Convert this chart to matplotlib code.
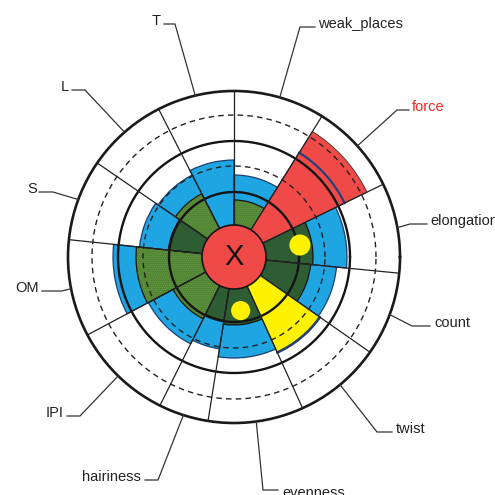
import numpy as np
import matplotlib
matplotlib.use("Agg")
import matplotlib.pyplot as plt

# ---------------- data ----------------
sectors = ["T", "weak_places", "force", "elongation", "count", "twist",
           "evenness", "hairiness", "IPI", "OM", "S", "L"]
# sector angular extents (degrees, counter-clockwise from east)
sector_start = [90, 58, 26, -5.6, -35, -65.6, -99, -116.5, -152, 174, 145.5, 117]
sector_end = [117, 90, 58, 26, -5.6, -35, -65.6, -99, -116.5, 208, 174, 145.5]
# radial levels (outer circle = 166)
green_level = [0, 57, 0, 79, 77, 0, 68, 64, 69, 98, 66, 71]
green_kind = ["", "tex", "", "dark", "dark", "", "dark", "dark", "tex", "tex", "dark", "tex"]
blue_level = [97, 82, 123, 113, 103, 105, 101, 93, 97, 121, 95, 92]
alert_level = [0, 0, 148, 0, 0, 104, 0, 0, 0, 0, 0, 0]
alert_kind = ["", "", "red", "", "", "yellow", "", "", "", "", "", ""]
dot_angle = [10.3, -82.9]
dot_radius = [67, 54]
dot_size = [230, 190]
center_radius = 32
solid_rings = [65, 116]
dashed_rings = [91, 142]
outer_radius = 166
label_colors = ["#222222"] * 12
label_colors[2] = "#ee2a24"

# ---------------- styles ----------------
RED = "#f04a48"
BLUE = "#1fa6e2"
DARKGREEN = "#2e5d33"
TEXGREEN = "#4f8434"
YELLOW = "#fff200"

W = 495
CX, CY = 234, 257

fig = plt.figure(figsize=(4.95, 4.95), dpi=100)
fig.patch.set_facecolor("white")
ax = fig.add_axes([(CX - outer_radius) / W, (W - CY - outer_radius) / W,
                   2 * outer_radius / W, 2 * outer_radius / W], projection="polar")
ax.set_theta_zero_location("E")
ax.set_theta_direction(1)
ax.set_ylim(0, outer_radius)
ax.set_xticks([])
ax.set_yticks([])
ax.grid(False)
ax.spines["polar"].set_linewidth(1.9)
ax.spines["polar"].set_color("#1a1a1a")

st = np.array(sector_start)
en = np.array(sector_end)
centers = np.deg2rad((st + en) / 2)
widths = np.deg2rad(en - st)

# blue
ax.bar(centers, blue_level, width=widths, bottom=0, color=BLUE,
       edgecolor="#1b3f73", linewidth=0.9, zorder=2)
# green
plt.rcParams["hatch.linewidth"] = 0.6
for c, w, g, k in zip(centers, widths, green_level, green_kind):
    if g <= 0:
        continue
    if k == "tex":
        ax.bar(c, g, width=w, bottom=0, color=TEXGREEN, edgecolor="#6c9a42",
               hatch="........", linewidth=0, zorder=3)
        ax.bar(c, g, width=w, bottom=0, fill=False, edgecolor="#151515",
               linewidth=0.9, zorder=3.1)
    else:
        ax.bar(c, g, width=w, bottom=0, color=DARKGREEN, edgecolor="#151515",
               linewidth=0.9, zorder=3)
# red / yellow
for c, w, a, k, b in zip(centers, widths, alert_level, alert_kind, blue_level):
    if a <= 0:
        continue
    ax.bar(c, a, width=w, bottom=0, color=RED if k == "red" else YELLOW,
           edgecolor="#333333", linewidth=0.6, zorder=4)
    t = np.linspace(c - w / 2, c + w / 2, 60)
    ax.plot(t, np.full_like(t, b), color="#24407a", lw=1.6, zorder=4.5)

# rings
tt = np.linspace(0, 2 * np.pi, 720)
for r in solid_rings:
    ax.plot(tt, np.full_like(tt, r), color="#141414", lw=1.7, zorder=5)
for r in dashed_rings:
    ax.plot(tt, np.full_like(tt, r), color="#222222", lw=1.0,
            linestyle=(0, (4, 3)), zorder=5)
# radial lines
for b in st:
    ax.plot([np.deg2rad(b)] * 2, [center_radius, outer_radius], color="#222222",
            lw=0.9, zorder=5)

# dots
ax.scatter(np.deg2rad(dot_angle), dot_radius, s=dot_size, color=YELLOW,
           edgecolors="none", zorder=6)

# center disk
ax.fill(tt, np.full_like(tt, center_radius), facecolor=RED, edgecolor="#151515",
        linewidth=1.2, zorder=7)
ax.text(0, 0, "X", ha="center", va="center", fontsize=21, color="#111111",
        family="Liberation Sans", zorder=8)

# ---------------- labels with leader lines ----------------
ov = fig.add_axes([0, 0, 1, 1], zorder=10)
ov.set_xlim(0, W)
ov.set_ylim(W, 0)
ov.axis("off")

elbow = [(175, 24), (300, 27), (397, 110), (410, 224), (412, 326), (377, 432),
         (263, 490), (158, 480), (80, 416), (62, 291), (53, 192), (85, 90)]
tail = [(164, 24), (315, 27), (409, 110), (427, 224), (430, 326), (392, 432),
        (278, 490), (145, 480), (67, 416), (42, 291), (39, 192), (72, 90)]
text_pos = [(161, 25), (318, 28), (412, 111), (430, 225), (434, 327), (396, 433),
            (282, 497), (141, 481), (64, 417), (39, 292), (37, 193), (69, 91)]
text_ha = ["right", "left", "left", "left", "left", "left", "left", "right",
           "right", "right", "right", "right"]

mids = (st + en) / 2
for i, name in enumerate(sectors):
    a = np.deg2rad(mids[i])
    sx = CX + outer_radius * np.cos(a)
    sy = CY - outer_radius * np.sin(a)
    ov.plot([sx, elbow[i][0], tail[i][0]], [sy, elbow[i][1], tail[i][1]],
            color="#333333", lw=0.9, solid_joinstyle="round")
    ov.text(text_pos[i][0], text_pos[i][1], name, ha=text_ha[i], va="baseline",
            fontsize=10.5, color=label_colors[i], family="Liberation Sans")

fig.savefig("out.png", dpi=100, facecolor="white")
